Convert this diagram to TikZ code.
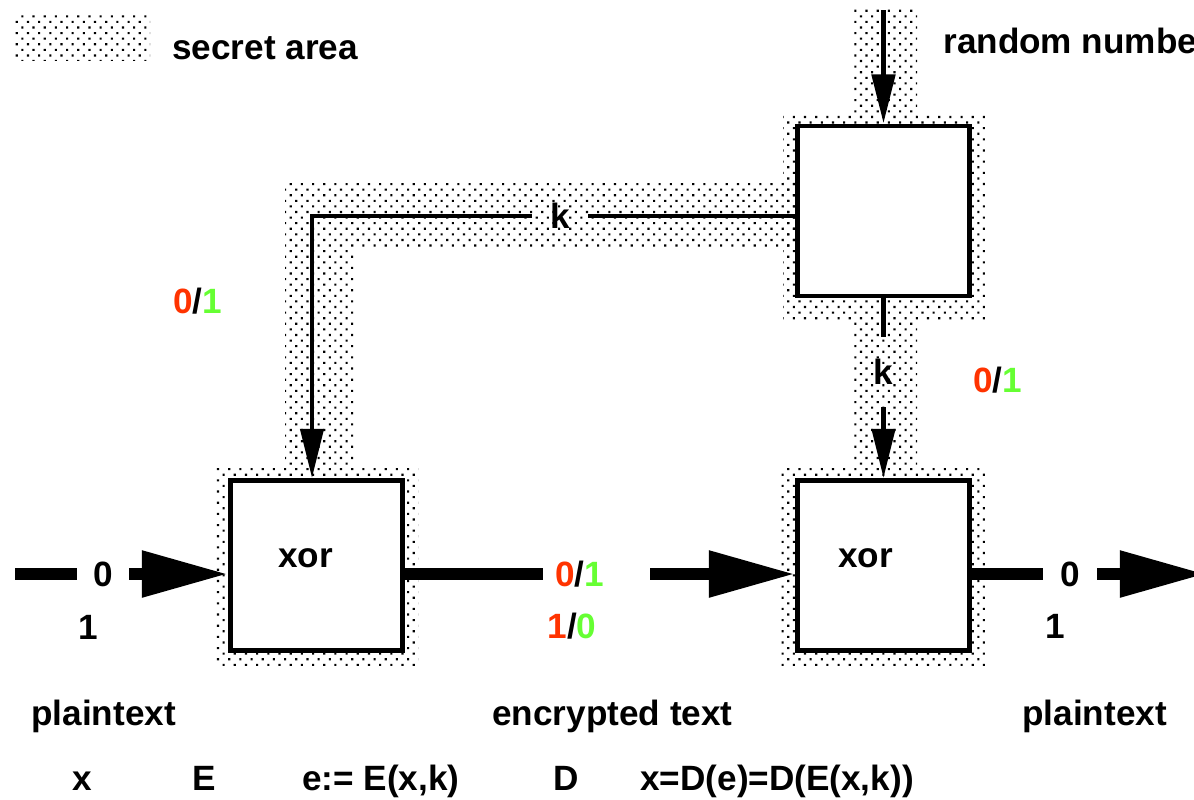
\documentclass[tikz,border=0pt]{standalone}
\usepackage{fontspec}
\setmainfont{Liberation Sans}
\usetikzlibrary{arrows.meta,patterns.meta}

\definecolor{bitred}{RGB}{255,51,0}
\definecolor{bitgreen}{RGB}{102,255,51}
\newcommand{\bitpair}[2]{\textcolor{bitred}{#1}/\textcolor{bitgreen}{#2}}

\begin{document}
\begin{tikzpicture}[x=0.02cm,y=-0.02cm,
    txt/.style={font=\fontsize{20}{24}\selectfont\bfseries,inner sep=0pt},
    bitgap/.style={txt,fill=white,inner xsep=9pt,inner ysep=7pt},
    blk/.style={draw,line width=2.8pt,fill=white,minimum width=3.44cm,minimum height=3.4cm},
    secret/.style={pattern={Dots[distance=4.5pt,angle=45,radius=0.85pt]}},
    sig/.style={line width=6.8pt,-{Triangle[length=49pt,width=25pt]}},
    keyline/.style={line width=2.7pt},
    keyarr/.style={keyline,-{Triangle[length=28pt,width=13pt]}}]

    \useasboundingbox (0,0) rectangle (1194,799);
    \clip (0,0) rectangle (1194,799);

    % Zones secretes
    \path[secret] (15,13) rectangle (150,60);
    \path[secret] (853,8) rectangle (917,115);
    \path[secret] (783,115) rectangle (987,320);
    \path[secret] (853,320) rectangle (917,465);
    \path[secret] (285,183) rectangle (795,247);
    \path[secret] (285,247) rectangle (353,465);
    \path[secret] (215,465) rectangle (418,668);
    \path[secret] (780,465) rectangle (985,668);

    % Boites
    \node[blk] (rn) at (883.5,211) {};
    \node[blk] (x1) at (316.5,565.5) {};
    \node[blk] (x2) at (883.5,565.5) {};
    \node[txt,anchor=base west] (t1) at (278,567) {xor};
    \node[txt,anchor=base west] (t2) at (838,567) {xor};

    % Cle
    \coordinate (rin) at (883.5,10);
    \draw[keyarr,line width=3.2pt] (rin) -- (rn.north);
    \node[txt,anchor=base west] (rtxt) at (943,53) {random number};

    \node[txt,minimum width=1.1cm] (k1) at (560,216) {k};
    \draw[keyline] (rn.west |- k1) -- (k1.east);
    \draw[keyarr] (k1.west) -| ([xshift=-0.09cm]x1.north);

    \node[txt,minimum height=1.4cm] (k2) at (883.5,372) {k};
    \draw[keyline] (rn.south) -- (k2.north);
    \draw[keyarr] (k2.south) -- (x2.north);

    \node[txt] (p1) at (197.5,301.5) {\bitpair{0}{1}};
    \node[txt] (p2) at (997.5,380.5) {\bitpair{0}{1}};

    % Signal
    \coordinate (in1) at (15,574);
    \coordinate (out1) at (1206,574);
    \draw[sig] (in1) -- (in1 -| x1.west);
    \draw[sig] (x1.east |- in1) -- (x2.west |- in1);
    \draw[sig] (x2.east |- in1) -- (out1);

    \node[bitgap] (a0) at (103,574) {0};
    \node[txt] (a1) at (88,627) {1};
    \node[bitgap,anchor=west,inner xsep=0pt] (m0) at (543,574) {\kern6.8pt\bitpair{0}{1}\kern26pt};
    \node[txt] (m1) at (572,626) {\bitpair{1}{0}};
    \node[bitgap,inner xsep=10pt] (c0) at (1070,574) {0};
    \node[txt] (c1) at (1055,626) {1};

    % Legende et textes
    \node[txt,anchor=base west] (leg) at (172,59) {secret area};
    \node[txt,anchor=base west] (l1) at (31,725) {plaintext};
    \node[txt,anchor=base west] (l2) at (492,725) {encrypted text};
    \node[txt,anchor=base west] (l3) at (1022,725) {plaintext};

    \node[txt,anchor=base west] (f1) at (72,790) {x};
    \node[txt,anchor=base west] (f2) at (192,790) {E};
    \node[txt,anchor=base west] (f3) at (302,790) {e:= E(x,k)};
    \node[txt,anchor=base west] (f4) at (553,790) {D};
    \node[txt,anchor=base west] (f5) at (640,790) {x=D(e)=D(E(x,k))};
\end{tikzpicture}
\end{document}
